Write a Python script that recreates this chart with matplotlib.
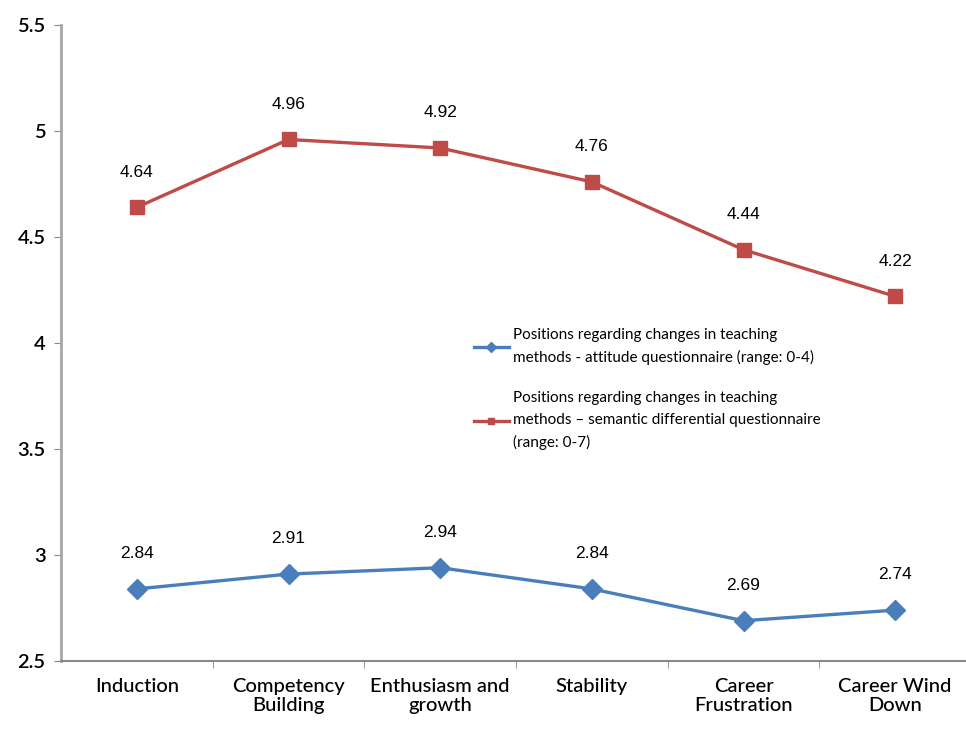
import matplotlib.pyplot as plt

plt.rcParams['font.family'] = ['Lato', 'DejaVu Sans']

stages = ['Induction', 'Competency\nBuilding', 'Enthusiasm and\ngrowth', 'Stability',
          'Career\nFrustration', 'Career Wind\nDown']
attitude = [2.84, 2.91, 2.94, 2.84, 2.69, 2.74]
semantic = [4.64, 4.96, 4.92, 4.76, 4.44, 4.22]
yticks = [2.5, 3, 3.5, 4, 4.5, 5, 5.5]

blue = '#4a7ebb'
red = '#be4b48'

fig = plt.figure(figsize=(9.66, 7.29), dpi=100)
ax = fig.add_axes([61 / 966, 68 / 729, 1 - 61 / 966, 636 / 729])

x = range(len(stages))
l1, = ax.plot(x, attitude, color=blue, lw=2.4, marker='D', ms=10, mec=blue,
              label='Positions regarding changes in teaching\nmethods - attitude questionnaire (range: 0-4)')
l2, = ax.plot(x, semantic, color=red, lw=2.4, marker='s', ms=10, mec=red,
              label='Positions regarding changes in teaching\nmethods \u2013 semantic differential questionnaire\n(range: 0-7)')

for series in (attitude, semantic):
    for xi, v in zip(x, series):
        ax.annotate(f'{v:.2f}', (xi, v), xytext=(0, 20), textcoords='offset points',
                    ha='center', va='bottom', fontsize=12.5, family='Liberation Sans')

ax.set_ylim(2.5, 5.5)
ax.set_yticks(yticks)
ax.set_yticklabels([f'{t:g}' for t in yticks], fontsize=14.5, fontweight='semibold')
ax.set_xlim(-0.5, 5.467)
ax.set_xticks(x)
ax.set_xticklabels(stages, fontsize=14.5, fontweight='medium')
ax.set_xticks([i + 0.5 for i in range(5)], minor=True)
ax.tick_params(axis='x', which='major', length=0, pad=12)
ax.tick_params(axis='x', which='minor', length=5, color='#888888')
ax.tick_params(axis='y', length=5, color='#888888', pad=6)

for s in ['top', 'right']:
    ax.spines[s].set_visible(False)
ax.spines['left'].set_color('#a6a6a6')
ax.spines['left'].set_linewidth(2)
ax.spines['bottom'].set_color('#888888')
ax.spines['bottom'].set_linewidth(1.5)

leg = fig.legend(handles=[l1, l2], loc='upper left', bbox_to_anchor=(460 / 966, 1 - 314 / 729),
                 frameon=False, fontsize=11, handlelength=2.3, handletextpad=0.3,
                 labelspacing=1.7, markerscale=0.5)
for t in leg.get_texts():
    t.set_linespacing(1.7)

fig.savefig('out.png', dpi=100)
